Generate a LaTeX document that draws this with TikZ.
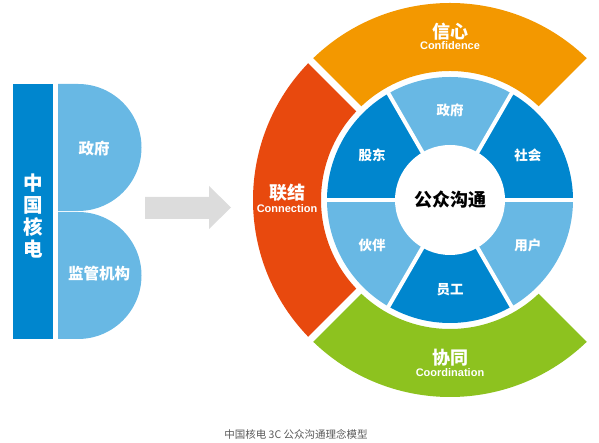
\documentclass[tikz,border=0pt]{standalone}
\usepackage{fontspec}
\newfontfamily\cjk{Noto Sans CJK SC}
\newfontfamily\lat{Liberation Sans}
\usetikzlibrary{positioning,calc}
\definecolor{dblue}{HTML}{0086CE}
\definecolor{lblue}{HTML}{68B8E4}
\definecolor{corange}{HTML}{F39800}
\definecolor{cred}{HTML}{E8490E}
\definecolor{cgreen}{HTML}{8DC21F}
\definecolor{arrgray}{HTML}{DCDCDC}
\def\Rout{197pt}
\def\Rmid{129pt}
\def\Rsec{123pt}
\tikzset{seclab/.style={text=white,inner sep=0pt,font=\cjk\bfseries\fontsize{13.5}{14}\selectfont}  }
\tikzset{bigcn/.style={text=white,inner sep=0pt,font=\cjk\bfseries\fontsize{18}{19}\selectfont}  }
\tikzset{smallen/.style={text=white,inner sep=0pt,font=\lat\bfseries\fontsize{11}{12}\selectfont}  }
\tikzset{sidelab/.style={text=white,inner sep=0pt,font=\cjk\bfseries\fontsize{15.5}{16}\selectfont}  }

\begin{document}
\begin{tikzpicture}[x=1pt,y=1pt]
	\useasboundingbox (0,0) rectangle (599,443);
	\coordinate (c) at (450,243);

	% outer ring: trust, connection, coordination
	\foreach \a/\col in {45/corange,135/cred,225/cgreen}
		\fill[\col,shift={(c)}] (\a:\Rout) arc[start angle=\a,delta angle=90,radius=\Rout]
			-- (\a+90:\Rmid) arc[start angle=\a+90,delta angle=-90,radius=\Rmid] -- cycle;
	\foreach \a in {45,135,225,315}
		\draw[white,line width=7pt,shift={(c)}] (\a:\Rmid-4pt) -- (\a:\Rout+4pt);

	% inner ring of six groups
	\foreach \a/\col in {0/dblue,60/lblue,120/dblue,180/lblue,240/dblue,300/lblue}
		\fill[\col,shift={(c)}] (0,0) -- (\a:\Rsec) arc[start angle=\a,delta angle=60,radius=\Rsec] -- cycle;
	\foreach \a in {0,60,...,300}
		\draw[white,line width=4pt,shift={(c)}] (0,0) -- (\a:\Rsec+2pt);

	\node[circle,fill=white,minimum size=110pt,inner sep=0pt,font=\cjk\bfseries\fontsize{18}{19}\selectfont] (hub) at (c) {公众沟通};

	\node[seclab] (gov) at ($(c)+(90:90pt)$) {政府};
	\node[seclab] (soc) at ($(c)+(30:90pt)$) {社会};
	\node[seclab] (usr) at ($(c)+(-30:90pt)$) {用户};
	\node[seclab] (emp) at ($(c)+(-90:90pt)$) {员工};
	\node[seclab] (ptn) at ($(c)+(210:90pt)$) {伙伴};
	\node[seclab] (shr) at ($(c)+(150:90pt)$) {股东};

	\node[bigcn] (trust) at (450,411) {信心};
	\node[smallen] (trusten) at (450,397) {Confidence};
	\node[bigcn] (link) at (287,250) {联结};
	\node[smallen] (linken) at (287,234) {Connection};
	\node[bigcn] (coop) at (450,85) {协同};
	\node[smallen] (coopen) at (450,70) {Coordination};

	% left block
	\node[fill=dblue,minimum width=40pt,minimum height=255pt,inner sep=0pt,anchor=south west] (cgn) at (13,104) {};
	\node[text=white,align=center,inner sep=0pt,font=\cjk\bfseries\fontsize{19.5}{21.7}\selectfont] (cgnlab) at (33,227) {中\\国\\核\\电};
	\fill[lblue] (58,359) -- (78,359) arc[start angle=90,end angle=-90,radius=63.5pt] -- (58,232) -- cycle;
	\fill[lblue] (58,231) -- (78,231) arc[start angle=90,end angle=-90,radius=63.5pt] -- (58,104) -- cycle;
	\node[sidelab] (lgov) at (94,294) {政府};
	\node[sidelab] (lreg) at (99,169) {监管机构};

	% arrow
	\fill[arrgray] (145,246) -- (209,246) -- (209,257) -- (231,235.5) -- (209,214) -- (209,224) -- (145,224) -- cycle;

	\node[text=black!65,inner sep=0pt,font=\cjk\fontsize{10.5}{12}\selectfont] (cap) at (296,9) {中国核电 3C 公众沟通理念模型};
\end{tikzpicture}
\end{document}
